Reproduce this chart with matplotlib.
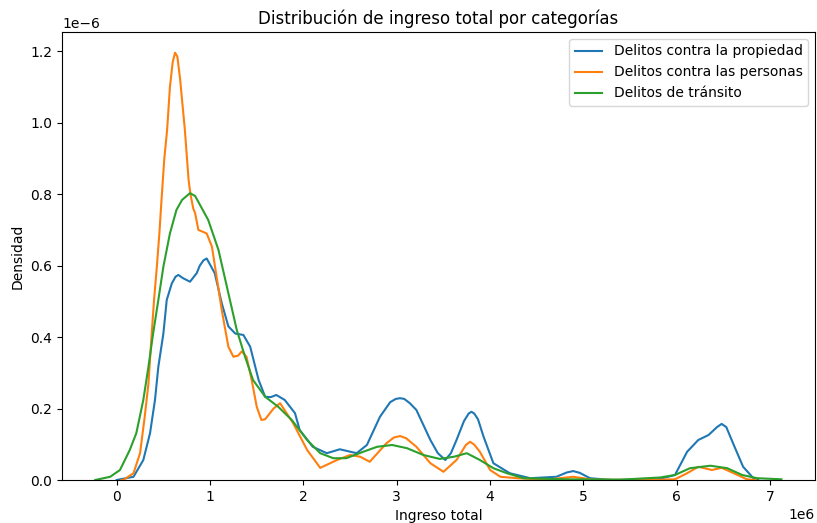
import numpy as np
import matplotlib
matplotlib.use("Agg")
import matplotlib.pyplot as plt

# ==========================================
# DATA (x in 1e6, y in 1e-6)
# ==========================================

labels = [
    "Delitos contra la propiedad",
    "Delitos contra las personas",
    "Delitos de tránsito",
]

x_propiedad = [0.0, 0.18, 0.285, 0.357, 0.41, 0.446, 0.50, 0.536, 0.59, 0.63, 0.66, 0.71,
               0.785, 0.857, 0.89, 0.93, 0.964, 1.05, 1.125, 1.196, 1.27, 1.357, 1.43, 1.52,
               1.59, 1.65, 1.71, 1.80, 1.91, 1.96, 2.10, 2.25, 2.39, 2.57, 2.68, 2.82,
               2.93, 2.99, 3.035, 3.08, 3.14, 3.21, 3.36, 3.44, 3.52, 3.58, 3.64, 3.72,
               3.77, 3.80, 3.83, 3.87, 3.93, 4.035, 4.21, 4.43, 4.71, 4.82, 4.89, 4.96,
               5.07, 5.30, 5.80, 5.98, 6.11, 6.23, 6.34, 6.43, 6.48, 6.53, 6.61, 6.71,
               6.82, 6.87]
y_propiedad = [0.0, 0.009, 0.056, 0.131, 0.224, 0.317, 0.41, 0.504, 0.55, 0.569, 0.574, 0.565,
               0.555, 0.579, 0.60, 0.615, 0.62, 0.579, 0.495, 0.43, 0.41, 0.406, 0.373, 0.28,
               0.233, 0.232, 0.238, 0.224, 0.187, 0.14, 0.093, 0.075, 0.086, 0.075, 0.098, 0.177,
               0.218, 0.227, 0.229, 0.227, 0.215, 0.196, 0.112, 0.075, 0.056, 0.075, 0.112, 0.165,
               0.186, 0.191, 0.186, 0.17, 0.121, 0.047, 0.019, 0.005, 0.009, 0.021, 0.025, 0.02,
               0.005, 0.0, 0.002, 0.014, 0.079, 0.112, 0.126, 0.148, 0.157, 0.148, 0.098, 0.037,
               0.005, 0.0]

x_personas = [0.05, 0.07, 0.18, 0.25, 0.30, 0.34, 0.375, 0.40, 0.43, 0.457, 0.48, 0.51,
              0.54, 0.57, 0.60, 0.625, 0.65, 0.68, 0.73, 0.77, 0.79, 0.82, 0.84, 0.875,
              0.93, 0.964, 1.02, 1.07, 1.125, 1.196, 1.25, 1.30, 1.34, 1.39, 1.446, 1.50,
              1.55, 1.59, 1.68, 1.75, 1.89, 2.04, 2.18, 2.36, 2.50, 2.61, 2.71, 2.89,
              2.97, 3.035, 3.10, 3.21, 3.36, 3.50, 3.64, 3.74, 3.785, 3.83, 3.89, 4.00,
              4.11, 4.29, 4.60, 4.89, 5.10, 5.70, 5.98, 6.11, 6.23, 6.375, 6.48, 6.61,
              6.75, 6.85]
y_personas = [0.0, 0.0, 0.019, 0.075, 0.177, 0.27, 0.41, 0.504, 0.597, 0.69, 0.784, 0.90,
              0.98, 1.10, 1.17, 1.196, 1.185, 1.12, 0.98, 0.84, 0.80, 0.76, 0.747, 0.70,
              0.694, 0.69, 0.653, 0.569, 0.476, 0.373, 0.345, 0.348, 0.36, 0.345, 0.28, 0.205,
              0.168, 0.17, 0.20, 0.215, 0.159, 0.084, 0.034, 0.056, 0.07, 0.065, 0.051, 0.103,
              0.119, 0.123, 0.117, 0.093, 0.047, 0.023, 0.056, 0.098, 0.107, 0.099, 0.079, 0.028,
              0.009, 0.005, 0.001, 0.009, 0.001, 0.0, 0.002, 0.019, 0.037, 0.028, 0.034, 0.019,
              0.002, 0.0]

x_transito = [-0.23, -0.07, 0.035, 0.14, 0.21, 0.285, 0.34, 0.39, 0.446, 0.50, 0.57, 0.64,
              0.70, 0.785, 0.84, 0.98, 1.09, 1.196, 1.286, 1.375, 1.46, 1.59, 1.73, 1.875,
              2.04, 2.18, 2.32, 2.46, 2.64, 2.79, 2.95, 3.11, 3.285, 3.46, 3.61, 3.75,
              3.89, 4.035, 4.18, 4.36, 4.80, 5.40, 5.82, 5.98, 6.14, 6.36, 6.54, 6.70,
              6.86, 7.12]
y_transito = [0.0, 0.009, 0.028, 0.084, 0.131, 0.224, 0.317, 0.41, 0.504, 0.597, 0.69, 0.756,
              0.784, 0.803, 0.795, 0.728, 0.644, 0.523, 0.42, 0.345, 0.28, 0.233, 0.205, 0.168,
              0.112, 0.075, 0.061, 0.061, 0.079, 0.093, 0.098, 0.089, 0.07, 0.059, 0.065, 0.075,
              0.056, 0.033, 0.019, 0.005, 0.002, 0.001, 0.007, 0.014, 0.033, 0.040, 0.033, 0.014,
              0.005, 0.002]

series = [
    (x_propiedad, y_propiedad),
    (x_personas, y_personas),
    (x_transito, y_transito),
]

colors = ["#1f77b4", "#ff7f0e", "#2ca02c"]

# ==========================================
# PLOT
# ==========================================

fig = plt.figure(figsize=(8.17, 5.23), dpi=100)
ax = fig.add_axes([62 / 817, 1 - 480 / 523, (815 - 62) / 817, (480 - 32) / 523])

for (xs, ys), label, color in zip(series, labels, colors):
    ax.plot(
        np.array(xs) * 1e6,
        np.array(ys) * 1e-6,
        color=color,
        linewidth=1.5,
        label=label
    )

ax.set_xlim(-0.586e6, 7.48e6)
ax.set_ylim(0, 1.254e-6)

ax.set_title("Distribución de ingreso total por categorías")
ax.set_xlabel("Ingreso total")
ax.set_ylabel("Densidad")
ax.legend(loc="upper right")

fig.savefig("out.png", dpi=100)
